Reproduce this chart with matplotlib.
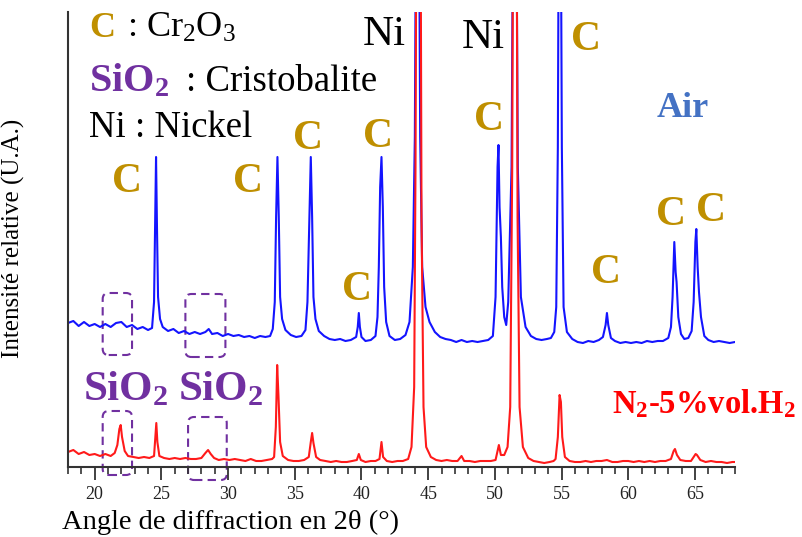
import matplotlib
matplotlib.use("Agg")
import matplotlib.pyplot as plt
from matplotlib.patches import FancyBboxPatch
from matplotlib.ticker import MultipleLocator
import numpy as np

plt.rcParams['font.family'] = 'serif'
plt.rcParams['font.serif'] = ['Liberation Serif', 'DejaVu Serif']
plt.rcParams['mathtext.fontset'] = 'custom'
plt.rcParams['mathtext.rm'] = 'Liberation Serif'
plt.rcParams['mathtext.it'] = 'Liberation Serif:italic'
plt.rcParams['mathtext.bf'] = 'Liberation Serif:bold'

# Air sample (blue), 2theta (deg) / relative intensity
air_theta = [18.0, 18.4, 18.8, 19.2, 19.6, 20.0, 20.4, 20.8, 21.2, 21.6, 22.0, 22.4, 22.8, 23.2, 23.6, 24.0,
             24.3, 24.45, 24.53, 24.6, 24.67, 24.75, 24.9, 25.1, 25.5, 25.9, 26.3, 26.7, 27.1, 27.5, 27.9,
             28.3, 28.55, 28.8, 29.2, 29.6, 30.0, 30.4, 30.8, 31.2, 31.6, 32.0, 32.4, 32.8, 33.15,
             33.35, 33.5, 33.6, 33.7, 33.8, 33.9, 34.05, 34.3, 34.7, 35.1, 35.5, 35.8, 35.95, 36.1, 36.2,
             36.3, 36.4, 36.55, 36.8, 37.2, 37.6, 38.0, 38.4, 38.8, 39.2, 39.6, 39.72, 39.8, 39.88, 40.0,
             40.3, 40.7, 41.05, 41.2, 41.3, 41.4, 41.5, 41.6, 41.7, 41.85, 42.1, 42.5, 42.9, 43.3, 43.6,
             43.85, 44.0, 44.1, 44.3, 44.4, 44.55, 44.8, 45.1, 45.5, 45.9, 46.3, 46.7, 47.1, 47.5, 47.9,
             48.3, 48.7, 49.1, 49.5, 49.85, 50.05, 50.2, 50.27, 50.35, 50.45, 50.55, 50.7, 50.85, 51.0,
             51.25, 51.38, 51.6, 51.72, 51.95, 52.3, 52.7, 53.1, 53.5, 53.9, 54.2, 54.45, 54.6, 54.72,
             54.8, 54.93, 55.02, 55.15, 55.4, 55.8, 56.2, 56.6, 57.0, 57.4, 57.8, 58.1, 58.3, 58.4, 58.5,
             58.7, 59.0, 59.4, 59.8, 60.2, 60.6, 61.0, 61.4, 61.8, 62.2, 62.6, 63.0, 63.2, 63.32, 63.45,
             63.55, 63.62, 63.75, 63.95, 64.2, 64.5, 64.75, 64.9, 65.03, 65.1, 65.2, 65.3, 65.45, 65.7,
             66.0, 66.4, 66.8, 67.2, 67.6, 68.0]
air_int = [144, 146, 141, 145, 141, 143, 140, 143, 140, 144, 145, 140, 142, 138, 140, 137,
           139, 165, 240, 310, 240, 170, 148, 140, 136, 138, 134, 136, 133, 135, 133,
           135, 138, 133, 134, 131, 133, 131, 132, 130, 131, 129, 131, 130, 131,
           138, 165, 250, 310, 250, 170, 148, 137, 132, 130, 131, 137, 165, 250, 310,
           250, 170, 148, 136, 131, 128, 127, 128, 126, 127, 130, 140, 154, 140, 130,
           126, 127, 131, 150, 200, 280, 310, 260, 180, 145, 131, 127, 128, 132, 145,
           200, 330, 600, 600, 330, 200, 160, 145, 135, 130, 128, 127, 125, 127, 125,
           126, 125, 126, 127, 131, 170, 300, 322, 260, 230, 180, 150, 142, 165,
           300, 600, 600, 300, 170, 140, 131, 128, 127, 128, 129, 135, 160, 320,
           600, 600, 320, 160, 135, 128, 125, 124, 126, 125, 127, 130, 142, 154, 142,
           129, 126, 124, 125, 124, 125, 124, 126, 125, 126, 126, 129, 140, 170, 225,
           195, 185, 150, 133, 128, 129, 136, 165, 225, 238, 200, 175, 150, 131,
           127, 125, 126, 125, 124, 125]

# N2-5%vol.H2 sample (red)
n2h2_theta = [18.0, 18.4, 18.8, 19.2, 19.6, 20.0, 20.4, 20.8, 21.2, 21.5, 21.7, 21.85, 21.95, 22.05, 22.25,
              22.5, 22.9, 23.3, 23.7, 24.1, 24.45, 24.55, 24.62, 24.7, 24.85, 25.2, 25.6, 26.0, 26.4,
              26.8, 27.2, 27.6, 28.0, 28.3, 28.5, 28.7, 28.95, 29.3, 29.7, 30.1, 30.5, 30.9, 31.3, 31.7,
              32.1, 32.5, 32.9, 33.3, 33.45, 33.58, 33.68, 33.78, 33.9, 34.1, 34.5, 34.9, 35.3, 35.7,
              36.05, 36.2, 36.3, 36.4, 36.6, 36.9, 37.3, 37.7, 38.1, 38.5, 38.9, 39.3, 39.65, 39.8, 39.95,
              40.3, 40.7, 41.05, 41.35, 41.5, 41.62, 41.9, 42.3, 42.7, 43.1, 43.5, 43.75, 43.95, 44.05,
              44.15, 44.4, 44.5, 44.65, 44.85, 45.2, 45.6, 46.0, 46.4, 46.8, 47.2, 47.5, 47.7, 48.1, 48.5,
              48.9, 49.3, 49.7, 50.05, 50.3, 50.45, 50.7, 50.95, 51.15, 51.3, 51.4, 51.6, 51.7, 51.85,
              52.1, 52.5, 52.9, 53.3, 53.7, 54.1, 54.4, 54.55, 54.72, 54.85, 54.95, 55.05, 55.25, 55.6,
              56.0, 56.4, 56.8, 57.2, 57.6, 58.0, 58.4, 58.8, 59.2, 59.6, 60.0, 60.4, 60.8, 61.2, 61.6,
              62.0, 62.4, 62.8, 63.2, 63.4, 63.5, 63.65, 63.9, 64.3, 64.7, 65.05, 65.15, 65.4, 65.8, 66.2,
              66.6, 67.0, 67.4, 67.8, 68.0]
n2h2_int = [15, 17, 13, 15, 12, 13, 11, 13, 11, 14, 22, 38, 42, 30, 16,
            11, 10, 9, 10, 9, 11, 30, 44, 25, 11, 9, 8, 9, 8,
            9, 8, 8, 9, 14, 17, 13, 9, 7, 8, 7, 8, 7, 6, 8,
            6, 6, 7, 8, 10, 40, 102, 70, 25, 11, 7, 6, 6, 7,
            10, 25, 34, 24, 10, 7, 6, 5, 6, 5, 5, 6, 7, 13, 7,
            5, 6, 6, 8, 25, 10, 6, 5, 6, 6, 8, 20, 80, 300,
            700, 700, 250, 60, 20, 10, 7, 6, 7, 6, 6, 11, 6, 6, 5,
            6, 6, 6, 7, 22, 12, 12, 20, 60, 300, 700, 700, 250, 60,
            20, 9, 6, 5, 4, 5, 6, 8, 30, 72, 65, 30, 10, 6,
            5, 5, 6, 5, 6, 6, 7, 5, 5, 6, 6, 5, 6, 5, 6,
            5, 6, 6, 8, 16, 18, 12, 7, 6, 6, 13, 12, 7, 5, 6,
            5, 5, 4, 5, 5]

tick_values = [20, 25, 30, 35, 40, 45, 50, 55, 60, 65]

# peak markers: 2theta, intensity of text baseline
cr2o3_labels = [(22.40, 275), (31.48, 275), (35.98, 318), (41.23, 320), (39.66, 167),
                (49.56, 337), (56.84, 417), (58.34, 184), (63.21, 242), (66.21, 246)]
ni_labels = [(41.69, 422), (49.11, 419)]
sio2_labels = [(19.11, 67), (26.23, 67)]
sio2_boxes = [(20.6, 112, 2.2, 62), (26.8, 110, 3.0, 63),
              (20.6, -8, 2.2, 64), (27.0, -13, 2.9, 63)]

gold = '#bf8f00'
purple = '#7030a0'
blue = '#1414ff'
red = '#ff1a1a'

fig = plt.figure(figsize=(8.02, 5.37), dpi=100)
ax = fig.add_axes([68 / 802, 1 - 467 / 537, (735 - 68) / 802, (467 - 12) / 537])

ax.plot(air_theta, air_int, color=blue, lw=1.5)
ax.plot(n2h2_theta, n2h2_int, color=red, lw=1.5)

ax.set_xlim(18, 68)
ax.set_ylim(0, 455)

for s in ['top', 'right']:
    ax.spines[s].set_visible(False)
for s in ['left', 'bottom']:
    ax.spines[s].set_linewidth(1.5)
    ax.spines[s].set_color('#333333')
ax.set_yticks([])
ax.set_xticks(tick_values)
ax.xaxis.set_minor_locator(MultipleLocator(1))
ax.tick_params(axis='x', which='major', direction='out', length=9, width=1.3, color='#333333',
               labelsize=13, pad=5, labelcolor='#222222')
ax.tick_params(axis='x', which='minor', direction='out', length=5, width=1.2, color='#333333')

ax.set_xlabel("Angle de diffraction en 2θ (°)", fontsize=20.5)
ax.xaxis.set_label_coords((230 - 68) / 667, -0.095)
ax.set_ylabel("Intensité relative (U.A.)", fontsize=18)
ax.yaxis.set_label_coords((25 - 68) / 667, 0.503)

# dashed boxes round the cristobalite positions
for (x0, y0, w, h) in sio2_boxes:
    box = FancyBboxPatch((x0, y0), w, h, boxstyle='round,pad=0,rounding_size=0.45',
                         mutation_aspect=13.33, fill=False, edgecolor=purple, lw=1.5,
                         linestyle=(0, (4, 2.5)), clip_on=False)
    ax.add_patch(box)

for (x, y) in cr2o3_labels:
    ax.text(x, y, "C", color=gold, fontsize=30, fontweight='bold', ha='center', va='baseline')
for (x, y) in ni_labels:
    ax.text(x, y, "Ni", color='black', fontsize=31, ha='center', va='baseline')
for (x, y) in sio2_labels:
    ax.text(x, y, r"SiO$_\mathbf{2}$", color=purple, fontsize=31, fontweight='bold',
            ha='left', va='baseline')

# key in the top left
ax.text(19.56, 430, "C", color=gold, fontsize=26, fontweight='bold', va='baseline')
ax.text(22.40, 430, r": Cr$_2$O$_3$", color='black', fontsize=26, va='baseline')
ax.text(19.56, 376, r"SiO$_\mathbf{2}$", color=purple, fontsize=29, fontweight='bold', va='baseline')
ax.text(26.83, 376, ": Cristobalite", color='black', fontsize=26.5, va='baseline')
ax.text(19.56, 330, "Ni : Nickel", color='black', fontsize=26.5, va='baseline')

ax.text(64.11, 350, "Air", color='#4472c4', fontsize=26, fontweight='bold', ha='center', va='baseline')
ax.text(58.79, 54, r"N$_\mathbf{2}$-5%vol.H$_\mathbf{2}$", color='#ff0000', fontsize=23.5,
        fontweight='bold', ha='left', va='baseline')

fig.savefig("out.png", dpi=100)
